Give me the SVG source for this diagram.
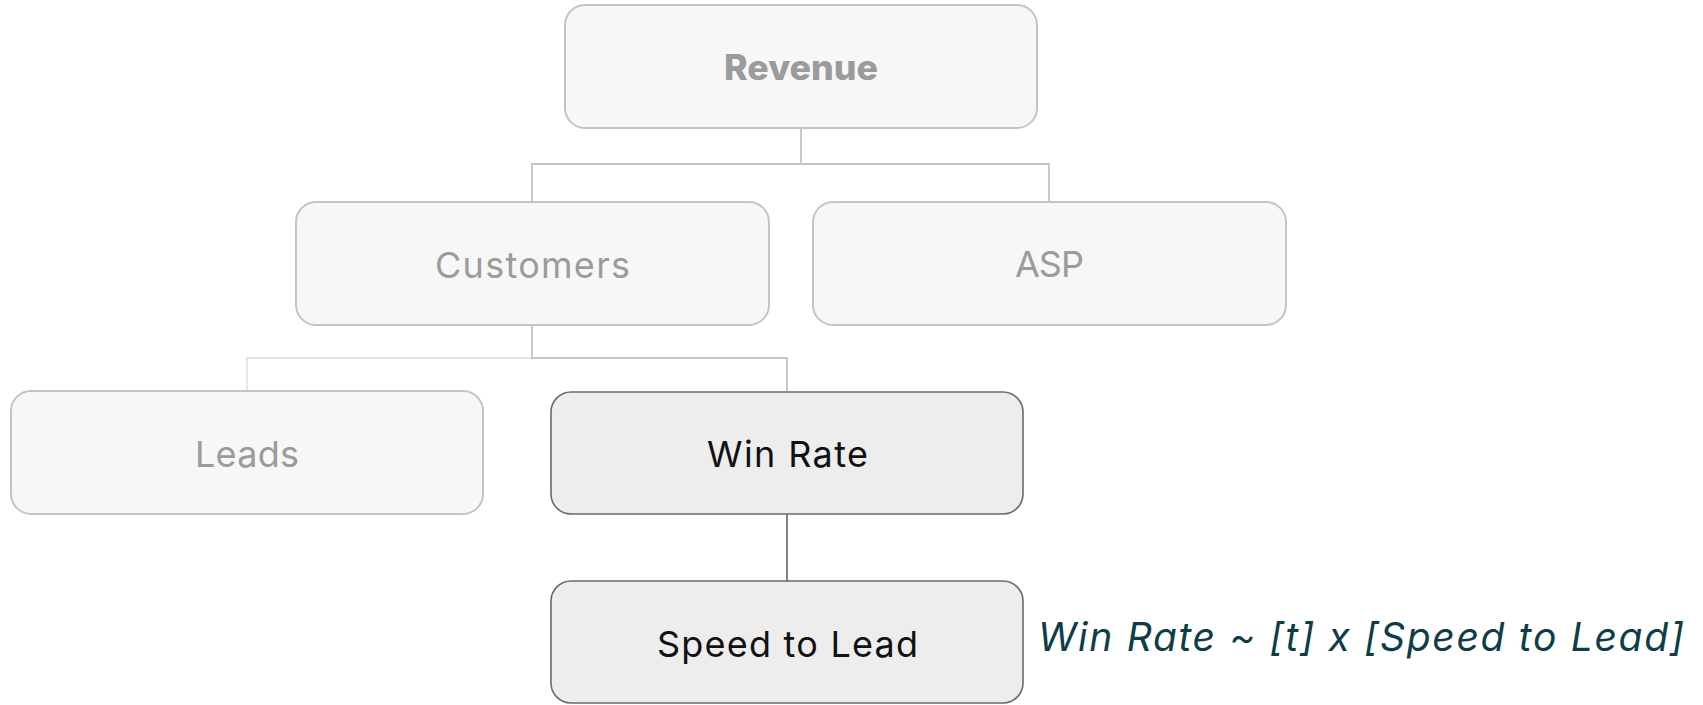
<svg xmlns="http://www.w3.org/2000/svg" width="1703" height="705" viewBox="0 0 1703 705">
  <style>
    .box-muted { fill: #f7f7f7; stroke: #c4c4c4; stroke-width: 2; }
    .box-active { fill: #ededed; stroke: #6a6a6a; stroke-width: 1.6; }
    .label { font-family: Inter, "Noto Sans", "Liberation Sans", sans-serif; font-size: 36px; text-anchor: start; }
    .label-muted { fill: #9b9b9b; }
    .label-active { fill: #111111; }
    .label-bold { font-weight: 800; font-size: 35px; }
    .link { fill: none; stroke-width: 1.8; }
    .link-muted { stroke: #c4c4c4; }
    .link-faint { stroke: #e4e4e4; }
    .link-active { stroke: #777777; }
    .formula { font-family: Inter, "Noto Sans", "Liberation Sans", sans-serif; font-size: 39px; font-style: italic; fill: #0e3d47; }
  </style>
  <rect width="1703" height="705" fill="#ffffff"/>

  <g id="connectors">
    <path class="link link-muted" d="M801,128 V164 M532,202 V164 H1049 V202"/>
    <path class="link link-faint" d="M532,358 H247 V391"/>
    <path class="link link-muted" d="M532,325 V358 H787 V391"/>
    <path class="link link-active" d="M787,514 V581"/>
  </g>

  <g id="revenue">
    <rect class="box-muted" x="565" y="5" width="472" height="123" rx="20"/>
    <text class="label label-muted label-bold" x="724" y="80" textLength="154" lengthAdjust="spacingAndGlyphs">Revenue</text>
  </g>

  <g id="customers">
    <rect class="box-muted" x="296" y="202" width="473" height="123" rx="20"/>
    <text class="label label-muted" x="435" y="278" textLength="195" lengthAdjust="spacing">Customers</text>
  </g>

  <g id="asp">
    <rect class="box-muted" x="813" y="202" width="473" height="123" rx="20"/>
    <text class="label label-muted" x="1015" y="277" textLength="69" lengthAdjust="spacing">ASP</text>
  </g>

  <g id="leads">
    <rect class="box-muted" x="11" y="391" width="472" height="123" rx="20"/>
    <text class="label label-muted" x="195" y="467" textLength="104" lengthAdjust="spacing">Leads</text>
  </g>

  <g id="win-rate">
    <rect class="box-active" x="551" y="392" width="472" height="122" rx="20"/>
    <text class="label label-active" x="707" y="467" textLength="161" lengthAdjust="spacing">Win Rate</text>
  </g>

  <g id="speed-to-lead">
    <rect class="box-active" x="551" y="581" width="472" height="122" rx="20"/>
    <text class="label label-active" x="657" y="657" textLength="261" lengthAdjust="spacing">Speed to Lead</text>
  </g>

  <g id="formula">
    <text class="formula" x="1038" y="651" textLength="646" lengthAdjust="spacing">Win Rate ~ [t] x [Speed to Lead]</text>
  </g>
</svg>
